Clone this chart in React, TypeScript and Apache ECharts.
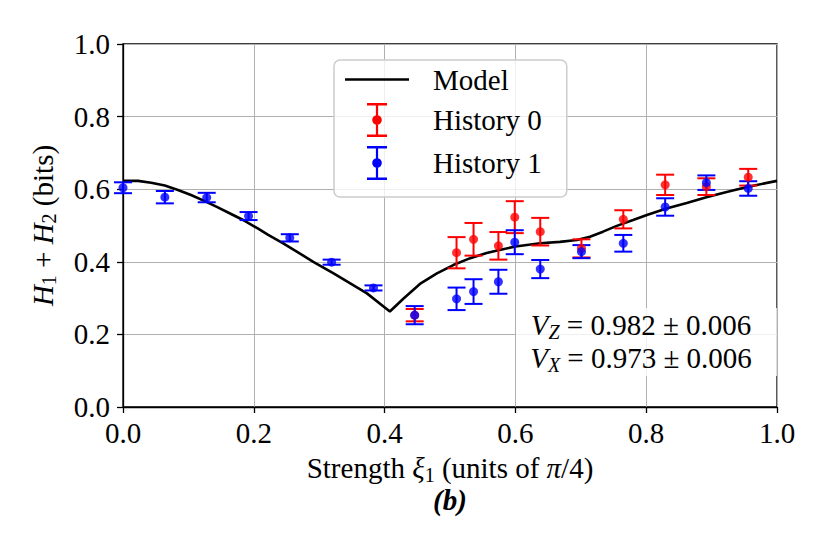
import React, { useEffect, useRef } from "react";
import * as echarts from "echarts";

// ---- data ----
const MODEL_X = [0.0, 0.023, 0.043, 0.064, 0.084, 0.104, 0.125, 0.145, 0.166, 0.186, 0.206, 0.222, 0.245, 0.291, 0.322, 0.373, 0.408, 0.429, 0.454, 0.48, 0.505, 0.531, 0.556, 0.574, 0.6, 0.638, 0.668, 0.694, 0.714, 0.734, 0.755, 0.78, 0.801, 0.831, 0.862, 0.892, 0.923, 0.956, 1.0];
const MODEL_Y = [0.623, 0.623, 0.618, 0.61, 0.598, 0.584, 0.567, 0.55, 0.531, 0.513, 0.492, 0.474, 0.451, 0.4, 0.368, 0.313, 0.263, 0.299, 0.339, 0.368, 0.391, 0.41, 0.424, 0.432, 0.442, 0.451, 0.455, 0.46, 0.469, 0.483, 0.499, 0.515, 0.529, 0.547, 0.562, 0.578, 0.592, 0.607, 0.623];

const POINT_X = [0.0, 0.064, 0.128, 0.192, 0.255, 0.319, 0.383, 0.446, 0.51, 0.536, 0.574, 0.599, 0.638, 0.701, 0.765, 0.829, 0.892, 0.956];
const H0_Y = [null, null, null, null, null, null, null, 0.253, 0.425, 0.462, 0.444, 0.523, 0.483, 0.437, 0.517, 0.612, 0.607, 0.633];
const H0_ERR = [null, null, null, null, null, null, null, 0.017, 0.043, 0.045, 0.038, 0.044, 0.038, 0.025, 0.025, 0.028, 0.023, 0.023];
const H1_Y = [0.604, 0.578, 0.577, 0.526, 0.466, 0.399, 0.328, 0.253, 0.298, 0.318, 0.345, 0.454, 0.38, 0.428, 0.451, 0.551, 0.618, 0.602];
const H1_ERR = [0.015, 0.017, 0.013, 0.011, 0.01, 0.007, 0.007, 0.025, 0.031, 0.034, 0.033, 0.033, 0.025, 0.018, 0.023, 0.024, 0.02, 0.02];

const SERIES_NAMES = ["Model", "History 0", "History 1"];
const COLORS = ["#000000", "#ff0000", "#0000ff"];
const ANNOTATION_LINES = [
  { sub: "Z", text: " = 0.982 ± 0.006" },
  { sub: "X", text: " = 0.973 ± 0.006" },
];

const FONT = "'Liberation Serif', 'DejaVu Serif', serif";
const FS = 29;

const ERRBAR_ICON =
  "path://M0,0h20v2.4H0z M8.9,0h2.2v34h-2.2z M0,31.6h20v2.4H0z M5.2,17a4.8,4.8 0 1,1 9.6,0a4.8,4.8 0 1,1 -9.6,0z";
const LINE_ICON = "path://M0,0h64v2.6H0z";

function buildPoints(ys: (number | null)[], errs: (number | null)[]) {
  const out: number[][] = [];
  POINT_X.forEach((x, i) => {
    const y = ys[i];
    const e = errs[i];
    if (y !== null && e !== null) out.push([x, y, e]);
  });
  return out;
}

function errorBarSeries(name: string, color: string, data: number[][]) {
  return {
    name,
    type: "custom",
    data,
    encode: { x: 0, y: 1 },
    itemStyle: { color },
    z: 3,
    renderItem: (_params: any, api: any) => {
      const x = api.value(0);
      const y = api.value(1);
      const e = api.value(2);
      const top = api.coord([x, y + e]);
      const bot = api.coord([x, y - e]);
      const hw = 9;
      const st = { stroke: color, lineWidth: 2 };
      return {
        type: "group",
        children: [
          { type: "line", shape: { x1: top[0], y1: top[1], x2: bot[0], y2: bot[1] }, style: st },
          { type: "line", shape: { x1: top[0] - hw, y1: top[1], x2: top[0] + hw, y2: top[1] }, style: st },
          { type: "line", shape: { x1: bot[0] - hw, y1: bot[1], x2: bot[0] + hw, y2: bot[1] }, style: st },
        ],
      };
    },
  };
}

function dotSeries(name: string, color: string, data: number[][]) {
  return {
    name,
    type: "scatter",
    data: data.map((d) => [d[0], d[1]]),
    symbol: "circle",
    symbolSize: 9,
    itemStyle: { color },
    z: 4,
  };
}

const richBase = {
  i: { fontStyle: "italic", fontSize: FS, fontFamily: FONT, lineHeight: 33, color: "#000" },
  s: { fontSize: 20, fontFamily: FONT, lineHeight: 20, verticalAlign: "bottom", color: "#000" },
  si: { fontSize: 20, fontStyle: "italic", fontFamily: FONT, lineHeight: 20, verticalAlign: "bottom", color: "#000" },
};

export default function App() {
  const ref = useRef<HTMLDivElement>(null);
  useEffect(() => {
    if (!ref.current) return;
    const chart = echarts.init(ref.current, undefined, { renderer: "svg" });
    const h0 = buildPoints(H0_Y, H0_ERR);
    const h1 = buildPoints(H1_Y, H1_ERR);
    const axisCommon = {
      min: 0,
      max: 1,
      interval: 0.2,
      axisLine: { show: true, lineStyle: { color: "#000", width: 1.3 } },
      axisTick: { show: true, inside: false, length: 6, lineStyle: { color: "#000", width: 1.3 } },
      splitLine: { show: true, lineStyle: { color: "#b0b0b0", width: 1 } },
      axisLabel: {
        color: "#000",
        fontSize: FS,
        fontFamily: FONT,
        formatter: (v: number) => v.toFixed(1),
      },
    };
    chart.setOption({
      animation: false,
      backgroundColor: "#fff",
      grid: {
        left: 123,
        right: 53,
        top: 44,
        bottom: 147,
        show: true,
        borderColor: "#000",
        borderWidth: 1.3,
        containLabel: false,
        outerBoundsMode: "none",
      },
      xAxis: {
        type: "value",
        ...axisCommon,
        axisLabel: { ...axisCommon.axisLabel, margin: 11 },
        name: "Strength {i|ξ}{s|1} (units of {i|π}/4)",
        nameLocation: "middle",
        nameGap: 43,
        nameTextStyle: { color: "#000", fontSize: FS, fontFamily: FONT, lineHeight: 33, rich: richBase },
      },
      yAxis: {
        type: "value",
        ...axisCommon,
        axisLabel: { ...axisCommon.axisLabel, margin: 13 },
        name: "{i|H}{s|1} + {i|H}{s|2} (bits)",
        nameLocation: "middle",
        nameRotate: 90,
        nameGap: 64,
        nameTextStyle: { color: "#000", fontSize: FS, fontFamily: FONT, lineHeight: 33, rich: richBase },
      },
      legend: {
        orient: "vertical",
        left: 334,
        top: 60,
        itemWidth: 64,
        itemHeight: 34,
        itemGap: 9,
        padding: [5, 25, 17, 11],
        backgroundColor: "rgba(255,255,255,0.8)",
        borderColor: "#cccccc",
        borderWidth: 1.5,
        borderRadius: 6,
        symbolKeepAspect: true,
        textStyle: { color: "#000", fontSize: FS, fontFamily: FONT, padding: [0, 0, 0, 19] },
        data: [
          { name: SERIES_NAMES[0], icon: LINE_ICON, itemStyle: { color: COLORS[0] } },
          { name: SERIES_NAMES[1], icon: ERRBAR_ICON, itemStyle: { color: COLORS[1] } },
          { name: SERIES_NAMES[2], icon: ERRBAR_ICON, itemStyle: { color: COLORS[2] } },
        ],
      },
      series: [
        {
          name: SERIES_NAMES[0],
          type: "line",
          data: MODEL_X.map((x, i) => [x, MODEL_Y[i]]),
          symbol: "none",
          smooth: false,
          lineStyle: { color: COLORS[0], width: 2.6 },
          itemStyle: { color: COLORS[0] },
          z: 2,
        },
        errorBarSeries(SERIES_NAMES[1], COLORS[1], h0),
        dotSeries(SERIES_NAMES[1], COLORS[1], h0),
        errorBarSeries(SERIES_NAMES[2], COLORS[2], h1),
        dotSeries(SERIES_NAMES[2], COLORS[2], h1),
      ],
      graphic: [
        {
          type: "rect",
          z: 10,
          shape: { x: 516, y: 308, width: 261, height: 68 },
          style: { fill: "rgba(255,255,255,0.8)" },
        },
        ...ANNOTATION_LINES.map((ln, k) => ({
          type: "text",
          z: 11,
          x: 641,
          y: 325 + k * 33,
          style: {
            text: `{i|V}{si|${ln.sub}}${ln.text}`,
            fontSize: FS,
            fontFamily: FONT,
            fill: "#000",
            lineHeight: 33,
            verticalAlign: "middle",
            align: "center",
            rich: richBase,
          },
        })),
        {
          type: "text",
          z: 11,
          x: 450,
          y: 500,
          style: {
            text: "(b)",
            fontSize: FS,
            fontFamily: FONT,
            fontStyle: "italic",
            fontWeight: "bold",
            fill: "#000",
            align: "center",
            verticalAlign: "middle",
          },
        },
      ],
    });
    return () => chart.dispose();
  }, []);
  return (
    <div
      ref={ref}
      style={{ position: "fixed", left: 0, top: 0, width: 830, height: 554, background: "#fff" }}
    />
  );
}
